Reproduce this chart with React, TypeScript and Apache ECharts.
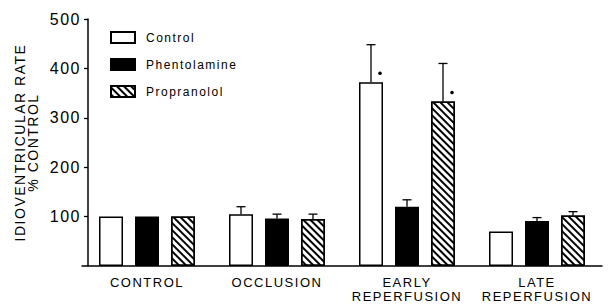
import React, { useEffect, useRef } from "react";
import * as echarts from "echarts";

const categories = ["CONTROL", "OCCLUSION", "EARLY\nREPERFUSION", "LATE\nREPERFUSION"];
const seriesNames = ["Control", "Phentolamine", "Propranolol"];
const controlMean = [100, 105, 372, 70];
const controlErr = [0, 15, 76, 0];
const controlSig = [false, false, true, false];
const phentolamineMean = [100, 96, 120, 91];
const phentolamineErr = [0, 9, 14, 7];
const phentolamineSig = [false, false, false, false];
const propranololMean = [100, 95, 333, 102];
const propranololErr = [0, 10, 77, 8];
const propranololSig = [false, false, true, false];
const yTicks = [0, 100, 200, 300, 400, 500];

const BAR_W = 24;
const BAR_GAP = 12;
const FONT = "'Liberation Sans', Arial, sans-serif";

const means = [controlMean, phentolamineMean, propranololMean];
const errs = [controlErr, phentolamineErr, propranololErr];
const sigs = [controlSig, phentolamineSig, propranololSig];

const hatch = {
  symbol: "rect",
  symbolSize: 1,
  dashArrayX: [1, 0],
  dashArrayY: [2, 2.4],
  rotation: Math.PI / 4,
  color: "#000",
};

const barStyles = [
  { color: "#fff", borderColor: "#000", borderWidth: 1.5 },
  { color: "#000", borderColor: "#000", borderWidth: 1.5 },
  { color: "#fff", borderColor: "#000", borderWidth: 1.5, decal: hatch },
];

export default function App() {
  const ref = useRef<HTMLDivElement>(null);
  useEffect(() => {
    if (!ref.current) return;
    const chart = echarts.init(ref.current, null, { renderer: "svg" });
    const barSeries = seriesNames.map((name, k) => ({
      name,
      type: "bar",
      data: means[k],
      barWidth: BAR_W,
      barGap: "50%",
      itemStyle: barStyles[k],
      z: 2,
    }));
    const errSeries = seriesNames.map((name, k) => ({
      name: name + " error",
      type: "custom",
      z: 3,
      data: means[k].map((m, i) => [i, m, m + errs[k][i], sigs[k][i] ? 1 : 0]),
      encode: { x: 0, y: 2 },
      renderItem: (params: any, api: any) => {
        const idx = api.value(0);
        const m = api.value(1);
        const top = api.value(2);
        const sig = api.value(3);
        const off = (k - 1) * (BAR_W + BAR_GAP);
        const p0 = api.coord([idx, m]);
        const p1 = api.coord([idx, top]);
        const x = p0[0] + off;
        const children: any[] = [];
        if (top > m) {
          children.push({
            type: "line",
            shape: { x1: x, y1: p0[1], x2: x, y2: p1[1] },
            style: { stroke: "#000", lineWidth: 1.3 },
          });
          children.push({
            type: "line",
            shape: { x1: x - 4.5, y1: p1[1], x2: x + 4.5, y2: p1[1] },
            style: { stroke: "#000", lineWidth: 1.3 },
          });
        }
        if (sig) {
          children.push({
            type: "circle",
            shape: { cx: x + 9, cy: p0[1] - 9, r: 1.8 },
            style: { fill: "#000" },
          });
        }
        return { type: "group", children };
      },
    }));
    chart.setOption({
      animation: false,
      grid: { left: 82, right: 8, top: 19, bottom: 38, containLabel: false },
      legend: {
        orient: "vertical",
        left: 105,
        top: 26,
        itemWidth: 24,
        itemHeight: 11,
        itemGap: 14,
        icon: "rect",
        data: seriesNames,
        selectedMode: false,
        textStyle: { fontFamily: FONT, fontSize: 12, color: "#000", padding: [0, 0, 0, 6] },
      },
      xAxis: {
        type: "category",
        data: categories,
        axisLine: { show: true, lineStyle: { color: "#000", width: 1.5 } },
        axisTick: { show: false },
        axisLabel: {
          fontFamily: FONT,
          fontSize: 13,
          color: "#000",
          margin: 10,
          lineHeight: 13.5,
        },
      },
      yAxis: {
        type: "value",
        min: yTicks[0],
        max: yTicks[yTicks.length - 1],
        interval: 100,
        offset: -6,
        name: "IDIOVENTRICULAR RATE\n% CONTROL",
        nameLocation: "middle",
        nameGap: 48,
        nameTextStyle: { fontFamily: FONT, fontSize: 14, color: "#000", lineHeight: 13.5 },
        splitLine: { show: false },
        axisLine: { show: true, lineStyle: { color: "#000", width: 1.5 } },
        axisTick: { show: true, length: 4, lineStyle: { color: "#000", width: 1.3 } },
        axisLabel: {
          fontFamily: FONT,
          fontSize: 16,
          color: "#000",
          margin: 7,
          showMinLabel: false,
        },
      },
      series: [...barSeries, ...errSeries],
    });
    return () => chart.dispose();
  }, []);
  return (
    <>
      <style>{`.ec-wrap text { letter-spacing: 1.5px; }`}</style>
      <div
        ref={ref}
        className="ec-wrap"
        style={{ position: "absolute", left: 0, top: 0, width: 610, height: 304, background: "#fff" }}
      />
    </>
  );
}
